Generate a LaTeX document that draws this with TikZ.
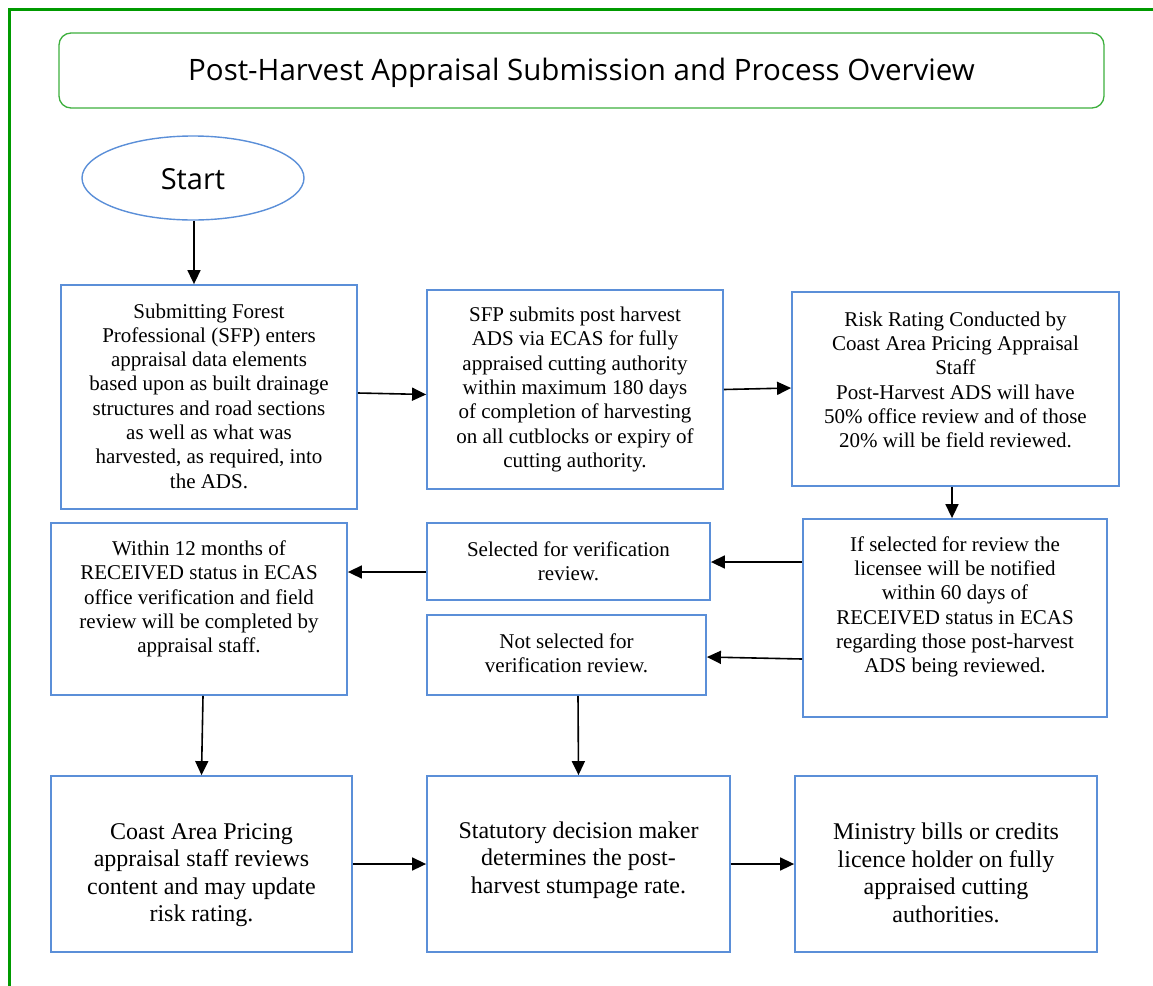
\documentclass[tikz,border=0pt]{standalone}
\usepackage{fontspec}
\setmainfont{Liberation Serif}
\newfontfamily\titlefont{Open Sans}
\usetikzlibrary{arrows.meta,shapes.geometric}
\definecolor{frameg}{HTML}{009A00}
\definecolor{titleg}{HTML}{3DAF3D}
\definecolor{boxb}{HTML}{5B8FD8}
\tikzset{
  box/.style={draw=boxb,line width=1.8pt,rectangle,inner sep=0pt},
  txt/.style={align=center,font=\fontsize{21}{24.3}\selectfont,inner sep=0pt},
  bigtxt/.style={align=center,font=\fontsize{24}{27.5}\selectfont,inner sep=0pt},
  arr/.style={line width=1.6pt,-{Triangle[length=14pt,width=13pt]}},
}
\begin{document}
\begin{tikzpicture}[x=1pt,y=-1pt]
\useasboundingbox (0,0) rectangle (1153,985);
% outer frame
\draw[frameg,line width=3pt] (9.5,990) -- (9.5,9.5) -- (1160,9.5);
% title
\node[draw=titleg,line width=1.3pt,rounded corners=12pt,minimum width=1045pt,minimum height=75pt,inner sep=0pt] (title) at (581.5,70.5) {};
\node[font=\titlefont\fontsize{29.5}{34}\selectfont,inner sep=0pt] (titlet) at (581.5,73) {Post-Harvest Appraisal Submission and Process Overview};
% start
\node[draw=boxb,line width=1.4pt,ellipse,minimum width=222pt,minimum height=84pt,inner sep=0pt] (start) at (193,178) {};
\node[font=\titlefont\fontsize{29}{33}\selectfont,inner sep=0pt] (startt) at (193,179.5) {Start};
% boxes
\node[box,minimum width=296pt,minimum height=224pt] (b1) at (209,397) {};
\node[box,minimum width=296pt,minimum height=199pt] (b2) at (575,389.5) {};
\node[box,minimum width=327pt,minimum height=194pt] (b3) at (955.5,389) {};
\node[box,minimum width=304pt,minimum height=198pt] (b4) at (955,618) {};
\node[box,minimum width=283pt,minimum height=77pt] (b5) at (568.5,561.5) {};
\node[box,minimum width=279pt,minimum height=80pt] (b6) at (566.5,655) {};
\node[box,minimum width=296pt,minimum height=172pt] (b7) at (199,609) {};
\node[box,minimum width=301pt,minimum height=176pt] (b8) at (201.5,864) {};
\node[box,minimum width=303pt,minimum height=176pt] (b9) at (578.5,864) {};
\node[box,minimum width=302pt,minimum height=176pt] (b10) at (946,864) {};
% texts
\node[txt] (t1) at ([yshift=1pt]b1) {Submitting Forest\\Professional (SFP) enters\\appraisal data elements\\based upon as built drainage\\structures and road sections\\as well as what was\\harvested, as required, into\\the ADS.};
\node[txt] (t2) at (b2) {SFP submits post harvest\\ADS via ECAS for fully\\appraised cutting authority\\within maximum 180 days\\of completion of harvesting\\on all cutblocks or expiry of\\cutting authority.};
\node[txt] (t3) at ([yshift=9pt]b3) {Risk Rating Conducted by\\Coast Area Pricing Appraisal\\Staff\\Post-Harvest ADS will have\\50\% office review and of those\\20\% will be field reviewed.};
\node[txt] (t4) at ([yshift=11pt]b4) {If selected for review the\\licensee will be notified\\within 60 days of\\RECEIVED status in ECAS\\regarding those post-harvest\\ADS being reviewed.};
\node[txt] (t5) at (b5) {Selected for verification\\review.};
\node[txt] (t6) at ([yshift=2pt]b6) {Not selected for\\verification review.};
\node[txt] (t7) at ([yshift=10pt]b7) {Within 12 months of\\RECEIVED status in ECAS\\office verification and field\\review will be completed by\\appraisal staff.};
\node[bigtxt] (t8) at ([yshift=-11pt]b8) {Coast Area Pricing\\appraisal staff reviews\\content and may update\\risk rating.};
\node[bigtxt] (t9) at ([yshift=4pt]b9) {Statutory decision maker\\determines the post-\\harvest stumpage rate.};
\node[bigtxt] (t10) at ([yshift=-9pt]b10) {Ministry bills or credits\\licence holder on fully\\appraised cutting\\authorities.};
% arrows
\draw[arr] ([xshift=1pt]start.south) -- ([xshift=-15pt]b1.north);
\draw[arr] ([yshift=4pt]b1.east) -- ([yshift=-5pt]b2.west);
\draw[arr] (b2.east) -- ([yshift=1pt]b3.west);
\draw[arr] ([xshift=-3.5pt]b3.south) -- ([xshift=-3pt]b4.north);
\draw[arr] ([yshift=56pt]b4.west) -- ([yshift=-0.5pt]b5.east);
\draw[arr] ([yshift=-41pt]b4.west) -- ([yshift=-2pt]b6.east);
\draw[arr] ([yshift=-10.5pt]b5.west) -- ([yshift=37pt]b7.east);
\draw[arr] ([xshift=4pt]b7.south) -- (b8.north);
\draw[arr] ([xshift=11.5pt]b6.south) -- (b9.north);
\draw[arr] (b8.east) -- (b9.west);
\draw[arr] (b9.east) -- (b10.west);
\end{tikzpicture}
\end{document}
